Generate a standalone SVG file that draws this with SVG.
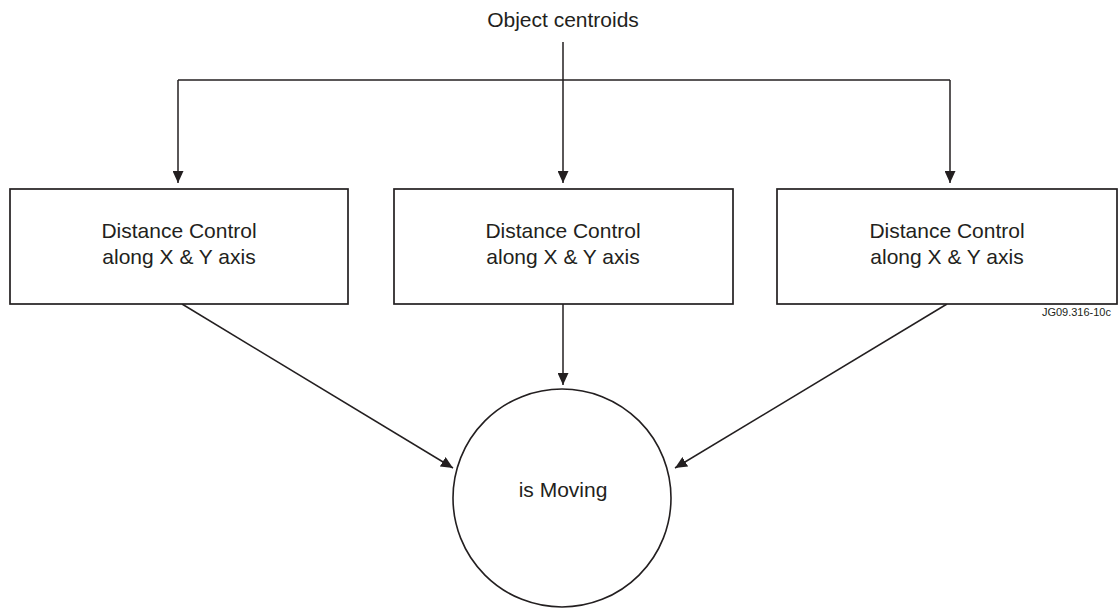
<svg xmlns="http://www.w3.org/2000/svg" width="1120" height="608" viewBox="0 0 1120 608">
  <style>
    .box { fill: #ffffff; stroke: #231f20; stroke-width: 1.7; }
    .wire { fill: none; stroke: #231f20; stroke-width: 1.5; }
    .lbl { font-family: "Liberation Sans", Arial, sans-serif; font-size: 21px; fill: #231f20; text-anchor: middle; }
    .tag { font-family: "Liberation Sans", Arial, sans-serif; font-size: 11px; fill: #231f20; text-anchor: end; }
  </style>
  <defs>
    <marker id="arrow" markerUnits="userSpaceOnUse" markerWidth="12" markerHeight="11" refX="12" refY="5.5" orient="auto">
      <path d="M0,0 L12,5.5 L0,11 z" fill="#231f20"/>
    </marker>
  </defs>
  <rect width="1120" height="608" fill="#ffffff"/>

  <text class="lbl" x="563" y="27">Object centroids</text>

  <g id="connectors">
    <path class="wire" d="M563,42 V183" marker-end="url(#arrow)"/>
    <path class="wire" d="M178,80 H950"/>
    <path class="wire" d="M178,80 V183" marker-end="url(#arrow)"/>
    <path class="wire" d="M950,80 V183" marker-end="url(#arrow)"/>
    <path class="wire" d="M563,304 V385" marker-end="url(#arrow)"/>
    <path class="wire" d="M182,304 L453,468" marker-end="url(#arrow)"/>
    <path class="wire" d="M947,304 L675,468" marker-end="url(#arrow)"/>
  </g>

  <g id="dist-left">
    <rect class="box" x="10" y="189" width="338" height="115"/>
    <text class="lbl" x="179" y="238">Distance Control</text>
    <text class="lbl" x="179" y="264">along X &amp; Y axis</text>
  </g>

  <g id="dist-middle">
    <rect class="box" x="394" y="189" width="339" height="115"/>
    <text class="lbl" x="563" y="238">Distance Control</text>
    <text class="lbl" x="563" y="264">along X &amp; Y axis</text>
  </g>

  <g id="dist-right">
    <rect class="box" x="777" y="189" width="340" height="115"/>
    <text class="lbl" x="947" y="238">Distance Control</text>
    <text class="lbl" x="947" y="264">along X &amp; Y axis</text>
  </g>

  <text class="tag" x="1111" y="316">JG09.316-10c</text>

  <g id="is-moving">
    <circle cx="562" cy="498" r="109" fill="#ffffff" stroke="#231f20" stroke-width="1.6"/>
    <text class="lbl" x="563" y="497">is Moving</text>
  </g>
</svg>
